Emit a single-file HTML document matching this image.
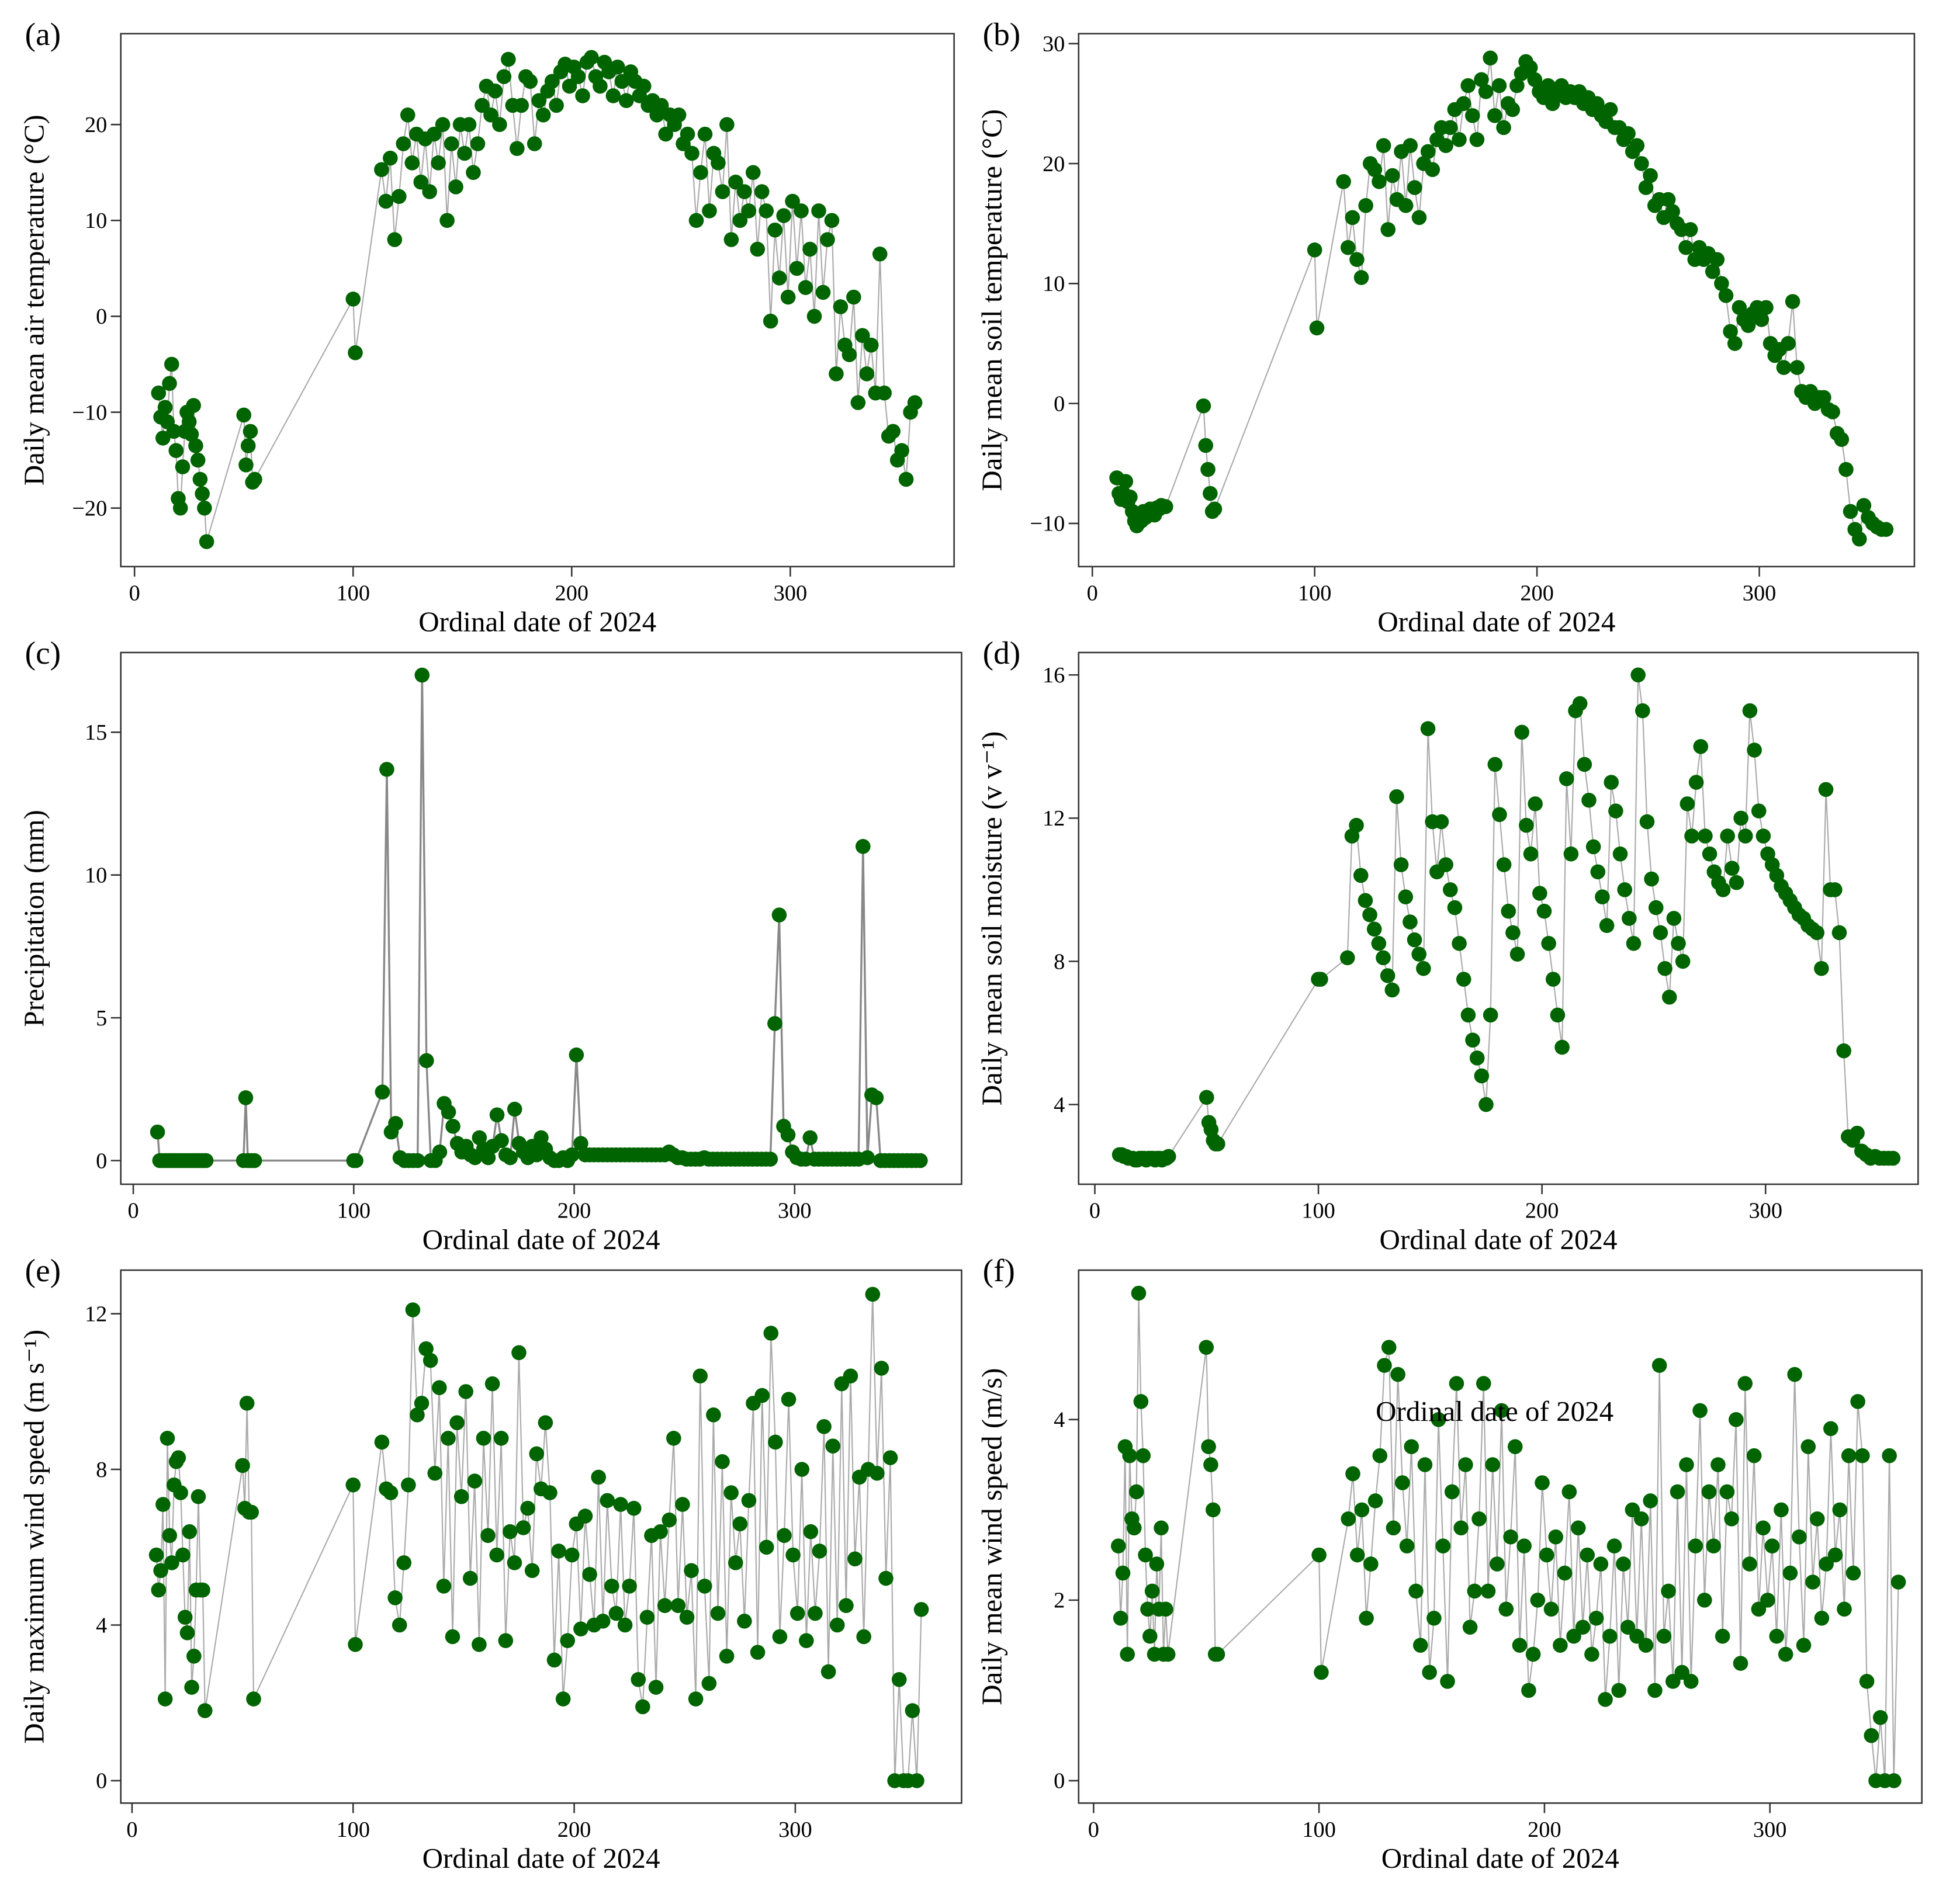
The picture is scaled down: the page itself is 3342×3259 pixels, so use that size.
<!DOCTYPE html>
<html><head><meta charset="utf-8">
<style>
html,body{margin:0;padding:0;background:#fff;}
svg{display:block;}
text{font-family:"Liberation Serif",serif;fill:#000;}
</style></head>
<body>
<svg id="chart" width="3342" height="3259" viewBox="0 0 1568 1529" xmlns="http://www.w3.org/2000/svg"></svg>
<script>
// shared dates
const daysEarly = [11,12,13,14,15,16,17,18,19,20,21,22,23,24,25,26,27,28,29,30,31,32,33,50,51,52,53,54,55,100,101];
const daysMain = [113,115,117,119,121,123,125,127,129,131,133,135,137,139,141,143,145,147,149,151,153,155,157,159,161,163,165,167,169,171,173,175,177,179,181,183,185,187,189,191,193,195,197,199,201,203,205,207,209,211,213,215,217,219,221,223,225,227,229,231,233,235,237,239,241,243,245,247,249,251,253,255,257,259,261,263,265,267,269,271,273,275,277,279,281,283,285,287,289,291,293,295,297,299,301,303,305,307,309,311,313,315,317,319,321,323,325,327,329,331,333,335,337,339,341,343,345,347,349,351,353,355,357];
const days = daysEarly.concat(daysMain);

const airTemp = [-8,-10.5,-12.7,-9.5,-11,-7,-5,-12,-14,-19,-20,-15.7,-12,-10,-11,-12.3,-9.3,-13.5,-15,-17,-18.5,-20,-23.5,
-10.3,-15.5,-13.5,-12,-17.3,-17,1.8,-3.8,
15.3,12,16.5,8,12.5,18,21,16,19,14,18.5,13,19,16,20,10,18,13.5,20,17,20,15,18,22,24,21,23.5,20,25,26.8,22,17.5,22,25,24.5,18,22.5,21,23.5,24.5,22,25.5,26.3,24,26,25,23,26.5,27,25,24,26.5,25.5,23,26,24.5,22.5,25.5,24.5,23,24,22,22.5,21,22,19,21,20,21,18,19,17,10,15,19,11,17,16,13,20,8,14,10,13,11,15,7,13,11,-0.5,9,4,10.5,2,12,5,11,3,7,0,11,2.5,8,10,-6,1,-3,-4,2,-9,-2,-6,-3,-8,6.5,-8,-12.5,-12,-15,-14,-17,-10,-9];

const soilTemp = [-6.2,-7.5,-8,-7.5,-6.5,-8.2,-7.8,-9,-9.8,-10.2,-9.5,-9.8,-9,-9.5,-9.2,-8.8,-9,-9.3,-8.7,-8.8,-8.5,-8.6,-8.6,
-0.2,-3.5,-5.5,-7.5,-9,-8.8,12.8,6.3,
18.5,13,15.5,12,10.5,16.5,20,19.5,18.5,21.5,14.5,19,17,21,16.5,21.5,18,15.5,20,21,19.5,22,23,21.5,23,24.5,22,25,26.5,24,22,27,26,28.8,24,26.5,23,25,24.5,26.5,27.5,28.5,28,27,26,25.5,26.5,25,26,26.5,25.5,26,25.5,26,25,25.5,24.5,25,24,23.5,24.5,23,23,22,22.5,21,21.5,20,18,19,16.5,17,15.5,17,16,15,14.5,13,14.5,12,13,12,12.5,11,12,10,9,6,5,8,7,6.5,7.5,8,7,8,5,4,4.5,3,5,8.5,3,1,0.5,1,0,0.5,0.5,-0.5,-0.7,-2.5,-3,-5.5,-9,-10.5,-11.3,-8.5,-9.5,-10,-10.3,-10.5,-10.5];

const precip = [1.0,0,0,0,0,0,0,0,0,0,0,0,0,0,0,0,0,0,0,0,0,0,0,
0,2.2,0,0,0,0,0,0,
2.4,13.7,1.0,1.3,0.1,0,0,0,0,17,3.5,0,0,0.3,2.0,1.7,1.2,0.6,0.3,0.5,0.2,0.1,0.8,0.4,0.1,0.5,1.6,0.7,0.2,0.1,1.8,0.6,0.3,0.1,0.5,0.2,0.8,0.4,0.1,0,0,0.1,0,0.2,3.7,0.6,0.2,0.2,0.2,0.2,0.2,0.2,0.2,0.2,0.2,0.2,0.2,0.2,0.2,0.2,0.2,0.2,0.2,0.2,0.2,0.3,0.2,0.1,0.1,0.05,0.05,0.05,0.05,0.1,0.05,0.05,0.05,0.05,0.05,0.05,0.05,0.05,0.05,0.05,0.05,0.05,0.05,0.05,0.05,4.8,8.6,1.2,0.9,0.3,0.1,0.05,0.05,0.8,0.05,0.05,0.05,0.05,0.05,0.05,0.05,0.05,0.05,0.05,0.05,11,0.1,2.3,2.2,0,0,0,0,0,0,0,0,0,0,0];

const soilMoist = [2.6,2.6,2.55,2.55,2.5,2.5,2.5,2.45,2.45,2.5,2.5,2.5,2.45,2.5,2.5,2.5,2.45,2.5,2.5,2.45,2.5,2.5,2.55,
4.2,3.5,3.3,3.0,2.9,2.9,7.5,7.5,
8.1,11.5,11.8,10.4,9.7,9.3,8.9,8.5,8.1,7.6,7.2,12.6,10.7,9.8,9.1,8.6,8.2,7.8,14.5,11.9,10.5,11.9,10.7,10,9.5,8.5,7.5,6.5,5.8,5.3,4.8,4.0,6.5,13.5,12.1,10.7,9.4,8.8,8.2,14.4,11.8,11,12.4,9.9,9.4,8.5,7.5,6.5,5.6,13.1,11,15,15.2,13.5,12.5,11.2,10.5,9.8,9,13,12.2,11,10,9.2,8.5,16,15,11.9,10.3,9.5,8.8,7.8,7,9.2,8.5,8,12.4,11.5,13,14,11.5,11,10.5,10.2,10,11.5,10.6,10.2,12,11.5,15,13.9,12.2,11.5,11,10.7,10.4,10.1,9.9,9.7,9.5,9.3,9.2,9.0,8.9,8.8,7.8,12.8,10,10,8.8,5.5,3.1,3.0,3.2,2.7,2.6,2.5,2.55,2.5,2.5,2.5,2.5];

const windMax = [5.8,4.9,5.4,7.1,2.1,8.8,6.3,5.6,7.6,8.2,8.3,7.4,5.8,4.2,3.8,6.4,2.4,3.2,4.9,7.3,4.9,4.9,1.8,
8.1,7.0,9.7,6.9,6.9,2.1,7.6,3.5,
8.7,7.5,7.4,4.7,4.0,5.6,7.6,12.1,9.4,9.7,11.1,10.8,7.9,10.1,5.0,8.8,3.7,9.2,7.3,10.0,5.2,7.7,3.5,8.8,6.3,10.2,5.8,8.8,3.6,6.4,5.6,11.0,6.5,7.0,5.4,8.4,7.5,9.2,7.4,3.1,5.9,2.1,3.6,5.8,6.6,3.9,6.8,5.3,4.0,7.8,4.1,7.2,5.0,4.3,7.1,4.0,5.0,7.0,2.6,1.9,4.2,6.3,2.4,6.4,4.5,6.7,8.8,4.5,7.1,4.2,5.4,2.1,10.4,5.0,2.5,9.4,4.3,8.2,3.2,7.4,5.6,6.6,4.1,7.2,9.7,3.3,9.9,6.0,11.5,8.7,3.7,6.3,9.8,5.8,4.3,8.0,3.6,6.4,4.3,5.9,9.1,2.8,8.6,4.0,10.2,4.5,10.4,5.7,7.8,3.7,8.0,12.5,7.9,10.6,5.2,8.3,0,2.6,0,0,1.8,0,4.4];

const windMean = [2.6,1.8,2.3,3.7,1.4,3.6,2.9,2.8,3.2,5.4,4.2,3.6,2.5,1.9,1.6,2.1,1.4,2.4,1.9,2.8,1.4,1.9,1.4,
4.8,3.7,3.5,3.0,1.4,1.4,2.5,1.2,
2.9,3.4,2.5,3.0,1.8,2.4,3.1,3.6,4.6,4.8,2.8,4.5,3.3,2.6,3.7,2.1,1.5,3.5,1.2,1.8,4.0,2.6,1.1,3.2,4.4,2.8,3.5,1.7,2.1,2.9,4.4,2.1,3.5,2.4,4.1,1.9,2.7,3.7,1.5,2.6,1.0,1.4,2.0,3.3,2.5,1.9,2.7,1.5,2.3,3.2,1.6,2.8,1.7,2.5,1.4,1.8,2.4,0.9,1.6,2.6,1.0,2.4,1.7,3.0,1.6,2.9,1.5,3.1,1.0,4.6,1.6,2.1,1.1,3.2,1.2,3.5,1.1,2.6,4.1,2.0,3.2,2.6,3.5,1.6,3.2,2.9,4.0,1.3,4.4,2.4,3.6,1.9,2.8,2.0,2.6,1.6,3.0,1.4,2.3,4.5,2.7,1.5,3.7,2.2,2.9,1.8,2.4,3.9,2.5,3.0,1.9,3.6,2.3,4.2,3.6,1.1,0.5,0,0.7,0,3.6,0,2.2];

const panels = [
 {id:'a', data:airTemp, L:97,R:766,T:27,B:455, x0:108,x1:459, y0:0,yv0:254, y1:20,yv1:100, yt:[-20,-10,0,10,20], ylab:'Daily mean air temperature (°C)'},
 {id:'b', data:soilTemp, L:866,R:1537,T:27,B:455, x0:877,x1:1234, y0:0,yv0:324, y1:30,yv1:35, yt:[-10,0,10,20,30], ylab:'Daily mean soil temperature (°C)'},
 {id:'c', data:precip, L:97,R:772,T:524,B:951, x0:107,x1:461, y0:0,yv0:932, y1:15,yv1:588, yt:[0,5,10,15], ylab:'Precipitation (mm)'},
 {id:'d', data:soilMoist, L:866,R:1540,T:524,B:951, x0:879,x1:1238, y0:4,yv0:887, y1:16,yv1:542, yt:[4,8,12,16], ylab:'Daily mean soil moisture (v v⁻¹)'},
 {id:'e', data:windMax, L:97,R:772,T:1020,B:1448, x0:106,x1:461, y0:0,yv0:1430, y1:12,yv1:1055, yt:[0,4,8,12], ylab:'Daily maximum wind speed (m s⁻¹)'},
 {id:'f', data:windMean, L:866,R:1543,T:1020,B:1448, x0:878,x1:1240, y0:0,yv0:1430, y1:4,yv1:1140, yt:[0,2,4], ylab:'Daily mean wind speed (m/s)'}
];
const xTicks = [0,100,200,300];

const NS='http://www.w3.org/2000/svg';
const svg=document.getElementById('chart');
function mk(tag, attrs, parent){const e=document.createElementNS(NS,tag);for(const k in attrs)e.setAttribute(k,attrs[k]);(parent||svg).appendChild(e);return e;}

panels.forEach(p=>{
  const g=mk('g',{});
  
  
  const sx=v=>p.x0+v*(p.x1-p.x0)/200;
  const sy=v=>p.yv0+(v-p.y0)*(p.yv1-p.yv0)/(p.y1-p.y0);
  const fr=mk('rect',{x:p.L,y:p.T,width:p.R-p.L,height:p.B-p.T,fill:'none',stroke:'#333','stroke-width':1.2},g);
  
  
  xTicks.forEach(t=>{
    const x=sx(t);
    mk('line',{x1:x,x2:x,y1:p.B,y2:p.B+8,stroke:'#333','stroke-width':1.2},g);
    const tx=mk('text',{x:x,y:p.B+27,'font-size':18,'text-anchor':'middle'},g);
    tx.textContent=t;
    
    
  });
  p.yt.forEach(t=>{
    const y=sy(t);
    mk('line',{x1:p.L-8,x2:p.L,y1:y,y2:y,stroke:'#333','stroke-width':1.2},g);
    const tx=mk('text',{x:p.L-11,y:y+6,'font-size':18,'text-anchor':'end'},g);
    tx.textContent=t<0?'\u2212'+(-t):t;
    
    
  });
  const xt=mk('text',{x:(p.L+p.R)/2,y:p.B+52,'font-size':23,'text-anchor':'middle'},g);
  xt.textContent='Ordinal date of 2024';
  
  
  const cy=(p.T+p.B)/2, cx=p.L-62;
  const yt=mk('text',{x:cx,y:cy,'font-size':23,'text-anchor':'middle',transform:`rotate(-90 ${cx} ${cy})`},g);
  yt.textContent=p.ylab;
  
  
  const pl=mk('text',{x:p.L-77,y:p.T+9,'font-size':26},g);
  pl.textContent='('+p.id+')';
  
  
  const n=Math.min(days.length,p.data.length);
  let d='';
  for(let i=0;i<n;i++){d+=(i?'L':'M')+sx(days[i]).toFixed(1)+' '+sy(p.data[i]).toFixed(1);}
  const ln=mk('path',{d:d,fill:'none',stroke:p.id==='c'?'#888':'#aaa','stroke-width':p.id==='c'?1.6:1},g);
  
  
  for(let i=0;i<n;i++){
    const c=mk('circle',{cx:sx(days[i]),cy:sy(p.data[i]),r:6,fill:'#006400'},g);
    
    
  }
});
const st=mk('text',{x:1200,y:1141,'font-size':23,'text-anchor':'middle'});
st.textContent='Ordinal date of 2024';


</script>
</body></html>
